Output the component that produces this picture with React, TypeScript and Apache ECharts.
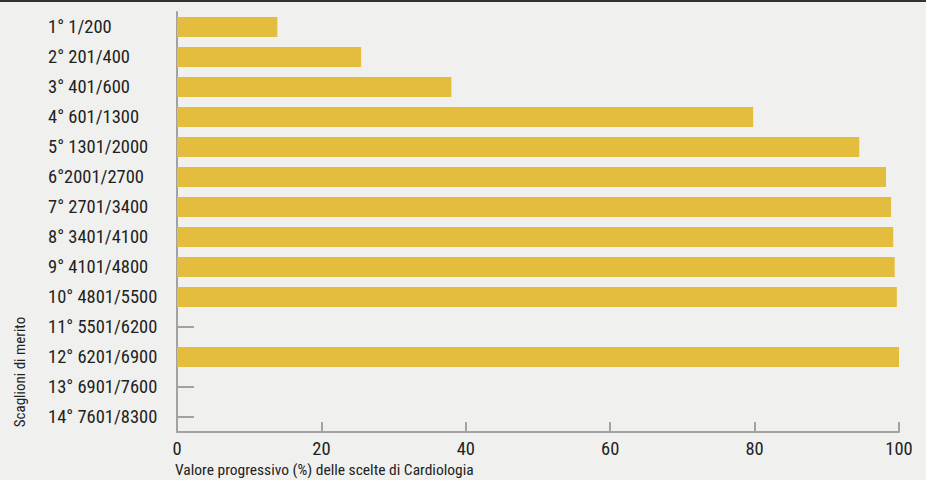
import React, { useEffect, useRef } from "react";
import * as echarts from "echarts";

const categories = [
  "1° 1/200",
  "2° 201/400",
  "3° 401/600",
  "4° 601/1300",
  "5° 1301/2000",
  "6°2001/2700",
  "7° 2701/3400",
  "8° 3401/4100",
  "9° 4101/4800",
  "10° 4801/5500",
  "11° 5501/6200",
  "12° 6201/6900",
  "13° 6901/7600",
  "14° 7601/8300",
];
const values: (number | null)[] = [13.9, 25.5, 38, 79.8, 94.5, 98.2, 98.9, 99.2, 99.4, 99.7, null, 100, null, null];
const xTicks = [0, 20, 40, 60, 80, 100];
const xName = "Valore progressivo (%) delle scelte di Cardiologia";
const yName = "Scaglioni di merito";

const FONT = '"Liberation Sans Narrow", "Arial Narrow", "Roboto Condensed", "Liberation Sans", sans-serif';

export default function App() {
  const ref = useRef<HTMLDivElement>(null);
  useEffect(() => {
    if (!ref.current) return;
    const chart = echarts.init(ref.current, null, { renderer: "svg" });
    chart.setOption({
      animation: false,
      backgroundColor: "#f0f1ee",
      grid: { left: 177, right: 27, top: 12, bottom: 48 },
      xAxis: {
        type: "value",
        min: xTicks[0],
        max: xTicks[xTicks.length - 1],
        interval: 20,
        axisLine: { show: true, lineStyle: { color: "#a2a2a2", width: 2 } },
        axisTick: { show: true, inside: true, length: 10, lineStyle: { color: "#a2a2a2", width: 2 } },
        splitLine: { show: false },
        axisLabel: { color: "#222", fontSize: 18.5, fontFamily: FONT, margin: 7 },
      },
      yAxis: {
        type: "category",
        data: categories,
        inverse: true,
        axisLine: { show: true, lineStyle: { color: "#a2a2a2", width: 2 } },
        axisTick: { show: true, inside: true, length: 17, alignWithLabel: true, lineStyle: { color: "#a2a2a2", width: 2 } },
        axisLabel: { color: "#222", fontSize: 18.5, fontFamily: FONT, align: "left", margin: 129 },
      },
      graphic: [
        { type: "rect", left: 0, top: 0, shape: { width: 926, height: 2 }, style: { fill: "#333" } },
        {
          type: "text",
          x: 20,
          y: 372,
          rotation: Math.PI / 2,
          style: { text: yName, fill: "#222", fontSize: 15, fontFamily: FONT, align: "center", verticalAlign: "middle" },
        },
        {
          type: "text",
          x: 175,
          y: 470,
          style: { text: xName, fill: "#222", fontSize: 15.5, fontFamily: FONT, align: "left", verticalAlign: "middle" },
        },
      ],
      series: [
        {
          type: "bar",
          data: values,
          barWidth: 20,
          itemStyle: { color: "#e4bc3e" },
          z: 3,
        },
      ],
    });
    return () => chart.dispose();
  }, []);
  return <div ref={ref} style={{ position: "fixed", left: 0, top: 0, width: 926, height: 480 }} />;
}
